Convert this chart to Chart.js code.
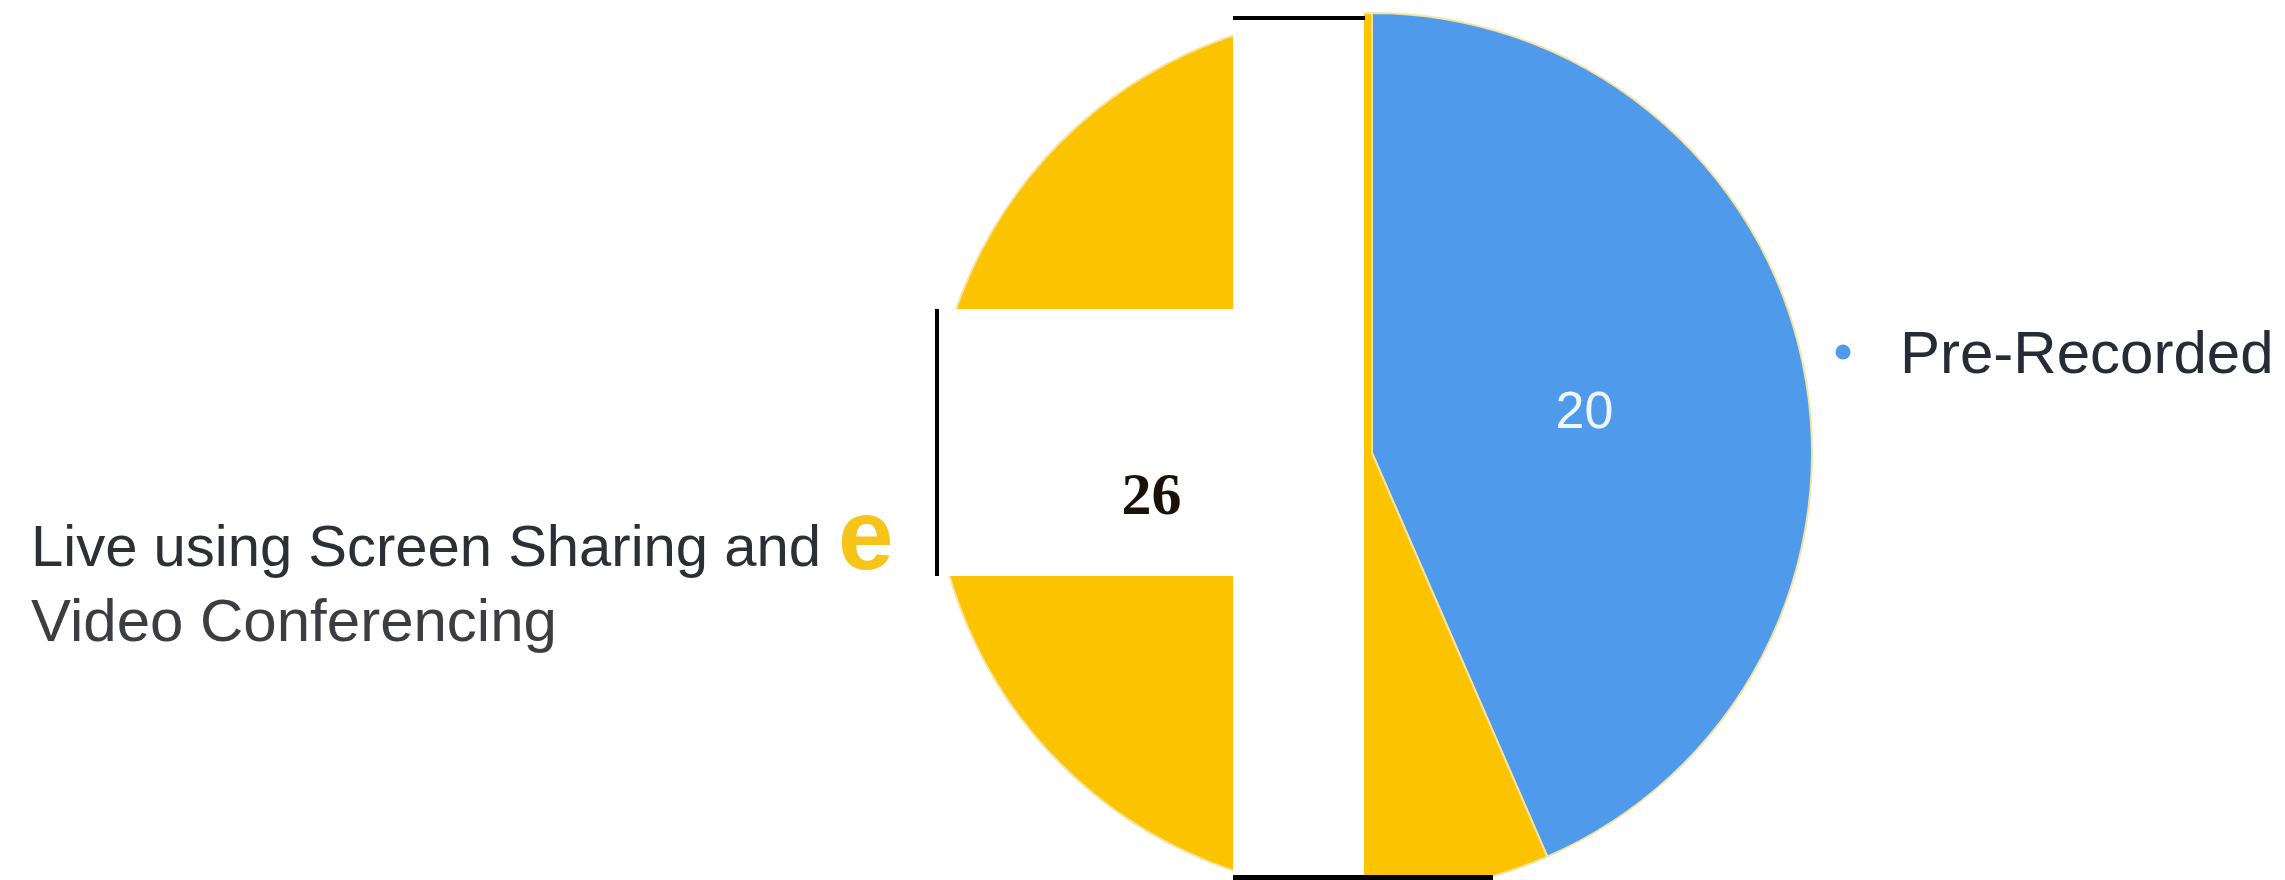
<!DOCTYPE html>
<html>
<head>
<meta charset="utf-8">
<script src="https://cdn.jsdelivr.net/npm/chart.js@4.4.1/dist/chart.umd.min.js"></script>
<style>
    html, body { margin: 0; padding: 0; background: #fff; overflow: hidden; }
    #wrap { position: relative; width: 2285px; height: 880px; }
</style>
</head>
<body>
<div id="wrap"><canvas id="pie-chart" width="2285" height="880"></canvas></div>
<script>
const categories = ['Pre-Recorded', 'Live using Screen Sharing and Video Conferencing'];
const counts = [20, 26];
const sliceColors = ['#509aec', '#fcc400'];

// the picture has white boxes pasted over part of the pie, plus a few black rules
const coverPlugin = {
    id: 'cover',
    afterDatasetsDraw(chart){
        const ctx = chart.ctx;
        const arcs = chart.getDatasetMeta(0).data;
        const cx = arcs[0].x;
        const cy = arcs[0].y;
        ctx.save();

        ctx.fillStyle = '#ffffff';
        ctx.fillRect(cx - 139, 0, 131, 880);
        ctx.fillRect(cx - 455, cy - 144, 317, 267);

        ctx.fillStyle = '#000000';
        ctx.fillRect(cx - 139, 16, 132, 4);
        ctx.fillRect(cx - 139, 875, 260, 5);
        ctx.fillRect(cx - 437, cy - 144, 4, 267);

        // value labels
        ctx.textAlign = 'center';
        ctx.textBaseline = 'middle';
        let p = arcs[0].tooltipPosition();
        ctx.fillStyle = '#eef5fc';
        ctx.font = '52px "Liberation Sans", Arial, sans-serif';
        ctx.fillText(String(counts[0]), p.x - 3, p.y + 5);

        p = arcs[1].tooltipPosition();
        ctx.fillStyle = '#1a1208';
        ctx.font = 'bold 60px "Liberation Serif", "Times New Roman", serif';
        ctx.fillText(String(counts[1]), p.x - 5, p.y + 1);

        // legend on the right
        ctx.textAlign = 'left';
        ctx.textBaseline = 'alphabetic';
        ctx.fillStyle = sliceColors[0];
        ctx.beginPath();
        ctx.arc(1843, 352, 7.5, 0, Math.PI * 2);
        ctx.fill();
        ctx.fillStyle = '#262b35';
        ctx.font = '60px "Liberation Sans", Arial, sans-serif';
        ctx.fillText(categories[0], 1900, 373);

        // label on the left
        ctx.font = '58px "Liberation Sans", Arial, sans-serif';
        ctx.fillStyle = '#2c2f36';
        ctx.fillText('Live using Screen Sharing and', 31, 566);
        ctx.fillStyle = '#f7c41a';
        ctx.font = 'bold 100px "Liberation Sans", Arial, sans-serif';
        ctx.fillText('e', 838, 569);
        ctx.fillStyle = '#3b3d43';
        ctx.font = '60px "Liberation Sans", Arial, sans-serif';
        ctx.fillText('Video Conferencing', 31, 641);

        ctx.restore();
    }
};

const pieData = {
    labels: categories,
    datasets: [{
        data: counts,
        backgroundColor: sliceColors,
        borderColor: '#f6e3a2',
        borderWidth: 2
    }]
};

const pieConfig = {
    type: 'pie',
    data: pieData,
    options: {
        responsive: false,
        devicePixelRatio: 1,
        animation: false,
        radius: 440,
        layout: {
            padding: { top: 26, bottom: 0, left: 931, right: 472 }
        },
        plugins: {
            legend: { display: false },
            tooltip: { enabled: false }
        }
    },
    plugins: [coverPlugin]
};

const pieChart = new Chart(document.getElementById('pie-chart'), pieConfig);
</script>
</body>
</html>
